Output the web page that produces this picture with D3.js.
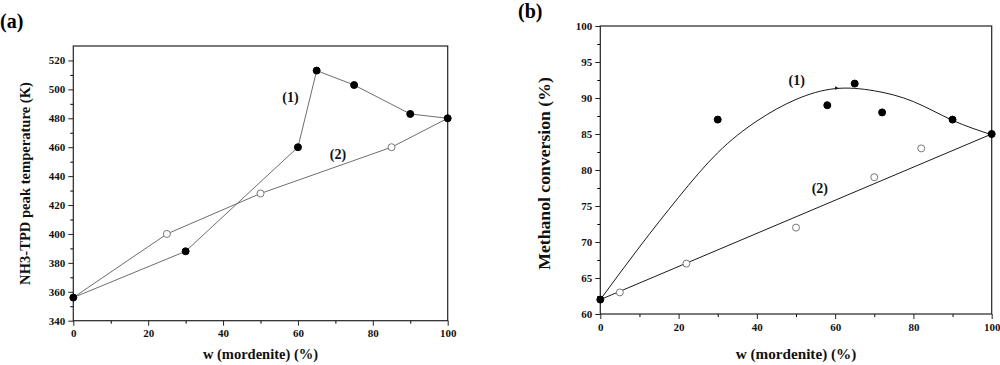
<!DOCTYPE html>
<html>
<head>
<meta charset="utf-8">
<script src="https://cdn.jsdelivr.net/npm/d3@7"></script>
<style>
  body { margin: 0; background: #fff; }
  svg { display: block; font-family: "Liberation Serif", "Times New Roman", serif; font-weight: bold; }
</style>
</head>
<body>
<svg id="chart" width="1000" height="365"></svg>
<script>
// ----------

// panel (a): NH3-TPD peak temperature
const W_TPD_1 = [0, 30, 60, 65, 75, 90, 100];
const TPD_1 = [356, 388, 460, 513, 503, 483, 480];
const W_TPD_2 = [0, 25, 50, 85, 100];
const TPD_2 = [356, 400, 428, 460, 480];

// panel (b): methanol conversion
const W_CONV_1 = [0, 30, 58, 65, 72, 90, 100];
const CONV_1 = [62, 87, 89, 92, 88, 87, 85];
const W_CONV_2 = [0, 5, 22, 50, 70, 82, 100];
const CONV_2 = [62, 63, 67, 72, 79, 83, 85];

// fitted curves of panel (b)
const W_FIT_1 = [0, 10, 20, 30, 40, 50, 60, 70, 80, 90, 100];
const FIT_1 = [62, 69.3, 76.2, 82.4, 86.8, 89.8, 91.3, 91.0, 89.5, 86.9, 84.9];
const W_FIT_2 = [0, 100];
const FIT_2 = [62, 85];
const FIT_1_ARROW = [61, 91.35];

const X_TICKS = [0, 20, 40, 60, 80, 100];
const TPD_TICKS = [340, 360, 380, 400, 420, 440, 460, 480, 500, 520];
const CONV_TICKS = [60, 65, 70, 75, 80, 85, 90, 95, 100];

const CURVE_LABELS_A = [
  { text: "(1)", w: 58, v: 495 },
  { text: "(2)", w: 70.7, v: 455 },
];
const CURVE_LABELS_B = [
  { text: "(1)", w: 50.2, v: 92.5 },
  { text: "(2)", w: 56.1, v: 77.5 },
];

const TICK_FONT = 11;
const MAJOR_TICK = 5;
const MINOR_TICK = 3;

// ----------

function zip(xs, ys) {
  return xs.map(function (x, i) {
    return [x, ys[i]];
  });
}

function drawPanel(svg, opt) {
  const x = d3.scaleLinear().domain([0, 100]).range([opt.left, opt.right]);
  const y = d3.scaleLinear().domain(opt.yDomain).range([opt.bottom, opt.top]);
  const g = svg.append("g");

  // minor ticks first, axes draw over them
  const xMinor = d3.range(10, 100, 20);
  g.append("g")
    .attr("transform", "translate(0," + opt.bottom + ")")
    .call(d3.axisBottom(x).tickValues(xMinor).tickSize(MINOR_TICK).tickFormat(""))
    .call(function (a) { a.select(".domain").remove(); });
  g.append("g")
    .attr("transform", "translate(" + opt.left + ",0)")
    .call(d3.axisLeft(y).tickValues(opt.yMinor).tickSize(MINOR_TICK).tickFormat(""))
    .call(function (a) { a.select(".domain").remove(); });

  let xAxis = g.append("g")
    .attr("transform", "translate(0," + opt.bottom + ")")
    .call(d3.axisBottom(x).tickValues(X_TICKS).tickSize(MAJOR_TICK).tickPadding(4).tickSizeOuter(0));
  let yAxis = g.append("g")
    .attr("transform", "translate(" + opt.left + ",0)")
    .call(d3.axisLeft(y).tickValues(opt.yTicks).tickSize(MAJOR_TICK).tickPadding(3).tickSizeOuter(0));
  [xAxis, yAxis].forEach(function (a) {
    a.attr("font-family", null).attr("font-size", TICK_FONT).attr("font-weight", "bold");
    a.selectAll("line").attr("stroke", "#222");
    a.select(".domain").attr("stroke", "none");
    a.selectAll("text").attr("fill", "#111");
  });

  // frame
  g.append("rect")
    .attr("x", opt.left)
    .attr("y", opt.top)
    .attr("width", opt.right - opt.left)
    .attr("height", opt.bottom - opt.top)
    .attr("fill", "none")
    .attr("stroke", "#222")
    .attr("stroke-width", 1.2);

  // lines
  opt.lines.forEach(function (ln) {
    g.append("path")
      .datum(ln.data)
      .attr("fill", "none")
      .attr("stroke", ln.color)
      .attr("stroke-width", 1)
      .attr("d", d3.line()
        .x(function (d) { return x(d[0]); })
        .y(function (d) { return y(d[1]); })
        .curve(ln.curve || d3.curveLinear));
  });

  // little arrowhead sitting on the fitted curve
  if (opt.arrow) {
    const ax = x(opt.arrow[0]), ay = y(opt.arrow[1]);
    g.append("path")
      .attr("d", "M" + (ax - 4) + "," + (ay - 2) + "L" + ax + "," + ay + "L" + (ax - 4) + "," + (ay + 1.5) + "Z")
      .attr("fill", "#1a1a1a");
  }

  // markers
  opt.points.forEach(function (p) {
    g.append("g")
      .selectAll("circle")
      .data(p.data)
      .enter()
      .append("circle")
      .attr("cx", function (d) { return x(d[0]); })
      .attr("cy", function (d) { return y(d[1]); })
      .attr("r", 3.5)
      .attr("fill", p.filled ? "#000" : "#fff")
      .attr("stroke", p.filled ? "#000" : "#777")
      .attr("stroke-width", 1);
  });

  g.selectAll("text.curve-label")
    .data(opt.labels)
    .enter()
    .append("text")
    .attr("class", "curve-label")
    .attr("x", function (d) { return x(d.w); })
    .attr("y", function (d) { return y(d.v); })
    .attr("dy", "0.35em")
    .attr("text-anchor", "middle")
    .attr("font-size", 14)
    .attr("fill", "#111")
    .text(function (d) { return d.text; });

  // axis titles
  g.append("text")
    .attr("x", (opt.left + opt.right) / 2)
    .attr("y", 359)
    .attr("text-anchor", "middle")
    .attr("font-size", opt.xTitleSize)
    .attr("fill", "#111")
    .text("w (mordenite) (%)");
  g.append("text")
    .attr("transform", "translate(" + opt.yTitleX + "," + opt.yTitleY + ") rotate(-90)")
    .attr("dy", "0.35em")
    .attr("text-anchor", "middle")
    .attr("font-size", opt.yTitleSize)
    .attr("fill", "#111")
    .text(opt.yTitle);

  g.append("text")
    .attr("x", opt.tagX)
    .attr("y", opt.tagY)
    .attr("font-size", 20)
    .attr("fill", "#000")
    .text(opt.tag);
}

// ----------

const svg = d3.select("#chart");

drawPanel(svg, {
  left: 73.3, right: 447.7, top: 46, bottom: 320.7,
  yDomain: [340, 530],
  yTicks: TPD_TICKS,
  yMinor: d3.range(350, 530, 20),
  lines: [
    { data: zip(W_TPD_1, TPD_1), color: "#6e6e6e" },
    { data: zip(W_TPD_2, TPD_2), color: "#6e6e6e" },
  ],
  points: [
    { data: zip(W_TPD_2, TPD_2).slice(1, -1), filled: false },
    { data: zip(W_TPD_1, TPD_1), filled: true },
  ],
  labels: CURVE_LABELS_A,
  xTitleSize: 14.5,
  yTitle: "NH3-TPD peak temperature (K)",
  yTitleSize: 14.6,
  yTitleX: 25, yTitleY: 183.5,
  tag: "(a)", tagX: 0, tagY: 28,
});

drawPanel(svg, {
  left: 600.3, right: 991.7, top: 26, bottom: 314,
  yDomain: [60, 100],
  yTicks: CONV_TICKS,
  yMinor: d3.range(62.5, 100, 5),
  lines: [
    { data: zip(W_FIT_1, FIT_1), color: "#1a1a1a", curve: d3.curveNatural },
    { data: zip(W_FIT_2, FIT_2), color: "#1a1a1a" },
  ],
  arrow: FIT_1_ARROW,
  points: [
    { data: zip(W_CONV_2, CONV_2).slice(1, -1), filled: false },
    { data: zip(W_CONV_1, CONV_1), filled: true },
  ],
  labels: CURVE_LABELS_B,
  xTitleSize: 15.2,
  yTitle: "Methanol conversion (%)",
  yTitleSize: 17.7,
  yTitleX: 544, yTitleY: 173.5,
  tag: "(b)", tagX: 518, tagY: 18,
});
</script>
</body>
</html>
